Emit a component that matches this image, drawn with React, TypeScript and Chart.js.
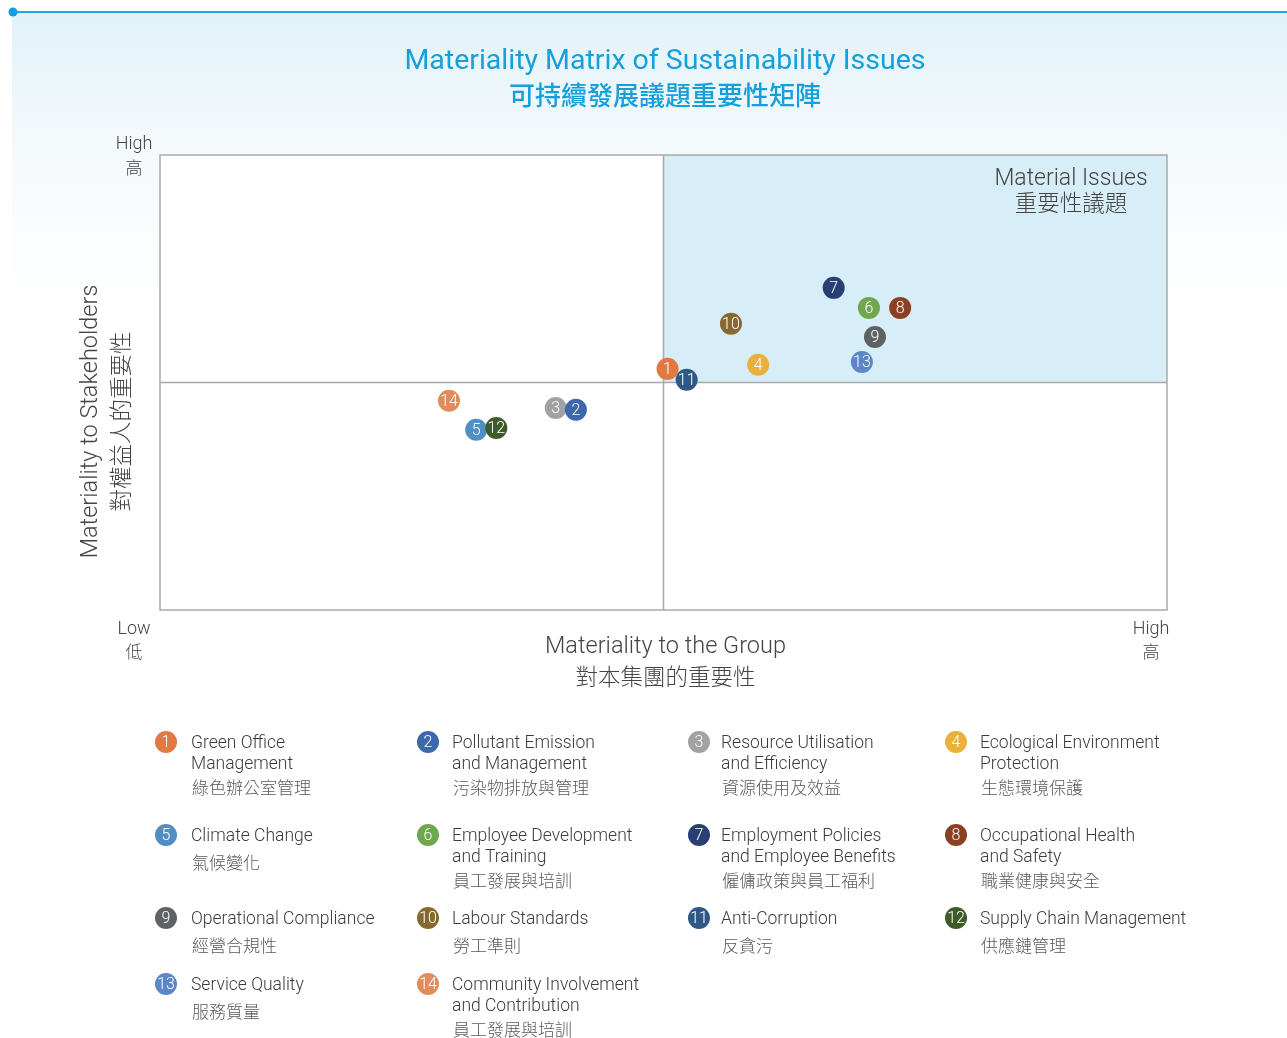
import React, { useEffect, useRef } from "react";
import { Chart, registerables } from "chart.js";

Chart.register(...registerables);

// ---------- data ----------
const issueIds = [1, 2, 3, 4, 5, 6, 7, 8, 9, 10, 11, 12, 13, 14];
const groupMateriality = [5.04, 4.13, 3.93, 5.94, 3.14, 7.04, 6.69, 7.35, 7.1, 5.67, 5.23, 3.34, 6.97, 2.87];
const stakeholderMateriality = [5.3, 4.4, 4.44, 5.39, 3.96, 6.64, 7.08, 6.64, 6.0, 6.29, 5.06, 4.0, 5.45, 4.6];
const issueColors = [
  "#e07a42", "#3d69ac", "#a2a2a4", "#ebb03b", "#4f8fc4", "#6fa74f", "#273f73",
  "#8c3f23", "#5f6162", "#86692f", "#2e5986", "#3e5b29", "#5c86c6", "#e28c5c",
];
const stackRank = [1, 3, 2, 4, 5, 6, 7, 8, 9, 10, 11, 12, 13, 14];
const issueNamesEn = [
  ["Green Office", "Management"],
  ["Pollutant Emission", "and Management"],
  ["Resource Utilisation", "and Efficiency"],
  ["Ecological Environment", "Protection"],
  ["Climate Change"],
  ["Employee Development", "and Training"],
  ["Employment Policies", "and Employee Benefits"],
  ["Occupational Health", "and Safety"],
  ["Operational Compliance"],
  ["Labour Standards"],
  ["Anti-Corruption"],
  ["Supply Chain Management"],
  ["Service Quality"],
  ["Community Involvement", "and Contribution"],
];
const issueNamesZh = [
  "綠色辦公室管理", "污染物排放與管理", "資源使用及效益", "生態環境保護",
  "氣候變化", "員工發展與培訓", "僱傭政策與員工福利", "職業健康與安全",
  "經營合規性", "勞工準則", "反貪污", "供應鏈管理", "服務質量", "員工發展與培訓",
];
const titleEn = "Materiality Matrix of Sustainability Issues";
const titleZh = "可持續發展議題重要性矩陣";
const quadrantLabelEn = "Material Issues";
const quadrantLabelZh = "重要性議題";
const xTitleEn = "Materiality to the Group";
const xTitleZh = "對本集團的重要性";
const yTitleEn = "Materiality to Stakeholders";
const yTitleZh = "對權益人的重要性";
const lowLabel = ["Low", "低"];
const highLabel = ["High", "高"];
const scaleMin = 0;
const scaleMid = 5;
const scaleMax = 10;

// ---------- styling ----------
const EN = "Roboto, 'Liberation Sans', sans-serif";
const ZH = "'Noto Sans CJK TC', 'Noto Sans CJK SC', sans-serif";
const BLUE = "#14a0dc";
const TEXT = "#3b3b3b";
const TEXT_ZH = "#595959";

const decorPlugin = {
  id: "decor",
  beforeDraw(chart: any) {
    const ctx = chart.ctx;
    ctx.save();
    // background panel gradient
    const g = ctx.createLinearGradient(0, 12, 0, 300);
    g.addColorStop(0, "#e1f2f9");
    g.addColorStop(0.45, "#f4f9fc");
    g.addColorStop(1, "#ffffff");
    ctx.fillStyle = g;
    ctx.fillRect(12, 12, chart.width - 12, 288);
    // top line and dot
    ctx.strokeStyle = "#2aa5dc";
    ctx.lineWidth = 2;
    ctx.beginPath();
    ctx.moveTo(12, 12);
    ctx.lineTo(chart.width, 12);
    ctx.stroke();
    ctx.fillStyle = "#119fe0";
    ctx.beginPath();
    ctx.arc(13, 12, 4.5, 0, Math.PI * 2);
    ctx.fill();
    // titles
    ctx.textAlign = "center";
    ctx.textBaseline = "middle";
    ctx.fillStyle = BLUE;
    ctx.font = `400 28.5px ${EN}`;
    ctx.fillText(titleEn, 665, 62);
    ctx.font = `500 26px ${ZH}`;
    ctx.fillText(titleZh, 665, 95);
    ctx.restore();
  },
  beforeDatasetsDraw(chart: any) {
    const ctx = chart.ctx;
    const xs = chart.scales.x;
    const ys = chart.scales.y;
    const x0 = xs.getPixelForValue(scaleMin);
    const xm = xs.getPixelForValue(scaleMid);
    const x1 = xs.getPixelForValue(scaleMax);
    const y0 = ys.getPixelForValue(scaleMin);
    const ym = ys.getPixelForValue(scaleMid);
    const y1 = ys.getPixelForValue(scaleMax);
    ctx.save();
    ctx.fillStyle = "#ffffff";
    ctx.fillRect(x0, y1, x1 - x0, y0 - y1);
    ctx.fillStyle = "#d7edf7";
    ctx.fillRect(xm, y1, x1 - xm, ym - y1);
    ctx.strokeStyle = "#a9a9a9";
    ctx.lineWidth = 1.5;
    ctx.strokeRect(x0, y1, x1 - x0, y0 - y1);
    ctx.beginPath();
    ctx.moveTo(xm, y1);
    ctx.lineTo(xm, y0);
    ctx.moveTo(x0, ym);
    ctx.lineTo(x1, ym);
    ctx.stroke();
    // quadrant label
    ctx.textAlign = "center";
    ctx.textBaseline = "middle";
    ctx.fillStyle = "#444444";
    ctx.font = `300 23px ${EN}`;
    ctx.fillText(quadrantLabelEn, 1071, 179);
    ctx.font = `300 22.5px ${ZH}`;
    ctx.fillText(quadrantLabelZh, 1071, 202);
    ctx.restore();
  },
  afterDatasetDraw(chart: any, args: any) {
    const ctx = chart.ctx;
    const el = args.meta.data[0];
    if (!el) return;
    const ds = chart.data.datasets[args.index];
    ctx.save();
    ctx.fillStyle = "#ffffff";
    ctx.textAlign = "center";
    ctx.textBaseline = "middle";
    ctx.font = `300 16px ${EN}`;
    ctx.fillText(String(ds.label), el.x, el.y + 1);
    ctx.restore();
  },
  afterDraw(chart: any) {
    const ctx = chart.ctx;
    const xs = chart.scales.x;
    const ys = chart.scales.y;
    const x0 = xs.getPixelForValue(scaleMin);
    const x1 = xs.getPixelForValue(scaleMax);
    const xm = xs.getPixelForValue(scaleMid);
    const y0 = ys.getPixelForValue(scaleMin);
    const y1 = ys.getPixelForValue(scaleMax);
    const ym = ys.getPixelForValue(scaleMid);
    ctx.save();
    ctx.textAlign = "center";
    ctx.textBaseline = "middle";
    ctx.fillStyle = "#444444";
    // axis ends
    ctx.font = `300 18px ${EN}`;
    ctx.fillText(highLabel[0], x0 - 26, y1 - 11);
    ctx.fillText(lowLabel[0], x0 - 26, y0 + 19);
    ctx.fillText(highLabel[0], x1 - 16, y0 + 19);
    ctx.font = `300 17px ${ZH}`;
    ctx.fillText(highLabel[1], x0 - 26, y1 + 13);
    ctx.fillText(lowLabel[1], x0 - 26, y0 + 42);
    ctx.fillText(highLabel[1], x1 - 16, y0 + 42);
    // x title
    ctx.font = `300 23.5px ${EN}`;
    ctx.fillText(xTitleEn, xm + 2, y0 + 37);
    ctx.font = `300 22.5px ${ZH}`;
    ctx.fillText(xTitleZh, xm + 2, y0 + 66);
    // y title
    ctx.save();
    ctx.translate(91, ym + 39);
    ctx.rotate(-Math.PI / 2);
    ctx.font = `300 23.5px ${EN}`;
    ctx.fillText(yTitleEn, 0, 0);
    ctx.restore();
    ctx.save();
    ctx.translate(120, ym + 39);
    ctx.rotate(-Math.PI / 2);
    ctx.font = `300 22.5px ${ZH}`;
    ctx.fillText(yTitleZh, 0, 0);
    ctx.restore();

    // legend
    const colX = [166, 428, 699, 956];
    const textX = [191, 452, 721, 980];
    const rowY = [742, 835, 918, 984];
    issueIds.forEach((id, i) => {
      const cx = colX[i % 4];
      const tx = textX[i % 4];
      const cy = rowY[Math.floor(i / 4)];
      ctx.fillStyle = issueColors[i];
      ctx.beginPath();
      ctx.arc(cx, cy, 11, 0, Math.PI * 2);
      ctx.fill();
      ctx.fillStyle = "#ffffff";
      ctx.textAlign = "center";
      ctx.font = `300 16px ${EN}`;
      ctx.fillText(String(id), cx, cy + 1);
      ctx.textAlign = "left";
      ctx.fillStyle = TEXT;
      ctx.font = `300 17.5px ${EN}`;
      const lines = issueNamesEn[i];
      lines.forEach((ln, k) => ctx.fillText(ln, tx, cy + 2 + k * 21));
      ctx.fillStyle = TEXT_ZH;
      ctx.font = `300 17px ${ZH}`;
      const zy = cy + (lines.length - 1) * 21 + (lines.length === 1 ? 28 : 25);
      ctx.fillText(issueNamesZh[i], tx + 1, zy);
    });
    ctx.restore();
  },
};

export default function App() {
  const ref = useRef<HTMLCanvasElement>(null);
  useEffect(() => {
    if (!ref.current) return;
    const datasets = issueIds.map((id, i) => ({
      label: String(id),
      data: [{ x: groupMateriality[i], y: stakeholderMateriality[i] }],
      backgroundColor: issueColors[i],
      borderWidth: 0,
      pointRadius: 11,
      pointHoverRadius: 11,
      order: -stackRank[i],
    }));
    const chart = new Chart(ref.current, {
      type: "scatter",
      data: { datasets },
      options: {
        responsive: false,
        maintainAspectRatio: false,
        animation: false,
        devicePixelRatio: 1,
        events: [],
        layout: { padding: { left: 160, right: 120, top: 155, bottom: 428 } },
        scales: {
          x: { type: "linear", min: scaleMin, max: scaleMax, display: false },
          y: { type: "linear", min: scaleMin, max: scaleMax, display: false },
        },
        plugins: { legend: { display: false }, tooltip: { enabled: false }, title: { display: false } },
      },
      plugins: [decorPlugin],
    } as any);
    return () => chart.destroy();
  }, []);
  return (
    <div style={{ position: "absolute", left: 0, top: 0, width: 1287, height: 1038, background: "#ffffff" }}>
      <canvas ref={ref} width={1287} height={1038} style={{ display: "block" }} />
    </div>
  );
}
